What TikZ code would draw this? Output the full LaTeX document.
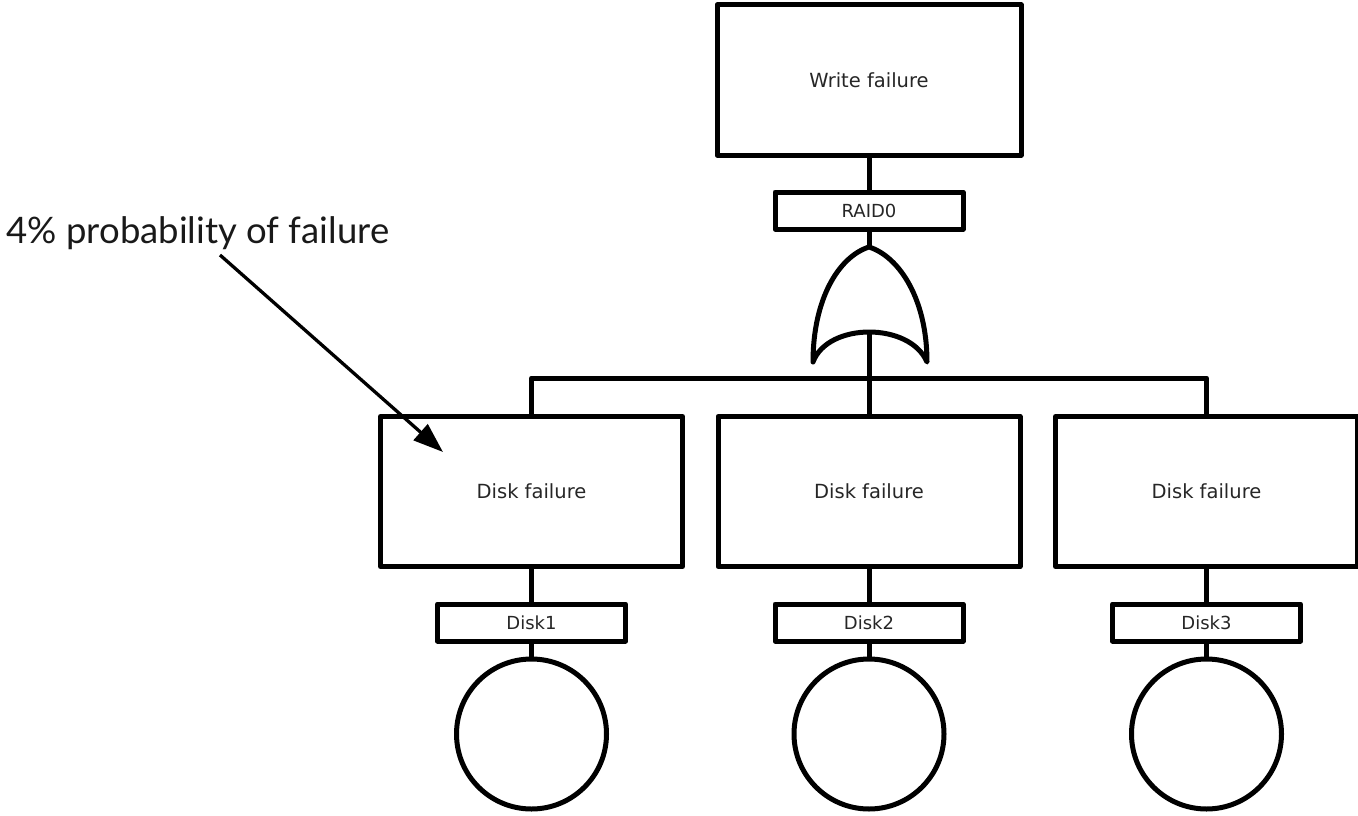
\documentclass[tikz,border=0pt]{standalone}
\usepackage{fontspec}
\setmainfont{DejaVu Sans}
\newfontfamily\notefont{Lato}
\usetikzlibrary{arrows.meta}
\begin{document}
\begin{tikzpicture}[x=1pt,y=-1pt,line width=5pt,line join=round,
  event/.style={draw,minimum width=302pt,minimum height=150pt,inner sep=0pt,
    font=\fontsize{19.5}{22}\selectfont,text=black!85},
  tag/.style={draw,minimum width=188pt,minimum height=37pt,inner sep=0pt,
    font=\fontsize{18}{20}\selectfont,text=black!85},
  basic/.style={draw,circle,minimum size=150pt,inner sep=0pt},
  note/.style={font=\notefont\fontsize{36.5}{40}\selectfont,text=black!90,inner sep=0pt},
  pointer/.style={line width=3.3pt,-{Triangle[length=30pt,width=21pt]}}]
\useasboundingbox (0,0) rectangle (1358,816);

% top event and its gate label
\node[event,minimum width=304pt] (top) at (869,80) {Write failure};
\node[tag] (raid) at (869,210.5) {RAID0};

% OR gate
\coordinate (ortop) at (869,247);
\coordinate (orbot) at (869,332);
\draw (813,362) .. controls (813,300) and (838,257) .. (ortop)
      .. controls (900,257) and (927,300) .. (927,362)
      .. controls (910,322) and (828,322) .. cycle;

% intermediate events
\node[event] (d1) at (531.5,491.5) {Disk failure};
\node[event] (d2) at (869,491.5) {Disk failure};
\node[event] (d3) at (1206.5,491.5) {Disk failure};

% basic event labels and circles
\node[tag] (t1) at (531.5,622.5) {Disk1};
\node[tag] (t2) at (869,622.5) {Disk2};
\node[tag] (t3) at (1206.5,622.5) {Disk3};
\node[basic] (c1) at (531.5,734) {};
\node[basic] (c2) at (869,734) {};
\node[basic] (c3) at (1206.5,734) {};

% connections
\coordinate (bus) at (869,378);
\draw (top) -- (raid);
\draw (raid) -- (ortop);
\draw (orbot) -- (d2.north);
\draw (d1.north) -- (d1.north |- bus) -- (d3.north |- bus) -- (d3.north);
\foreach \i in {1,2,3} {
  \draw (d\i) -- (t\i);
  \draw (t\i) -- (c\i);
}

% annotation
\node[note,anchor=base west] (prob) at (4,243) {4\% probability of failure};
\coordinate (pstart) at (220,255);
\coordinate (ptip) at (443,452);
\draw[pointer] (pstart) -- (ptip);
\end{tikzpicture}
\end{document}
